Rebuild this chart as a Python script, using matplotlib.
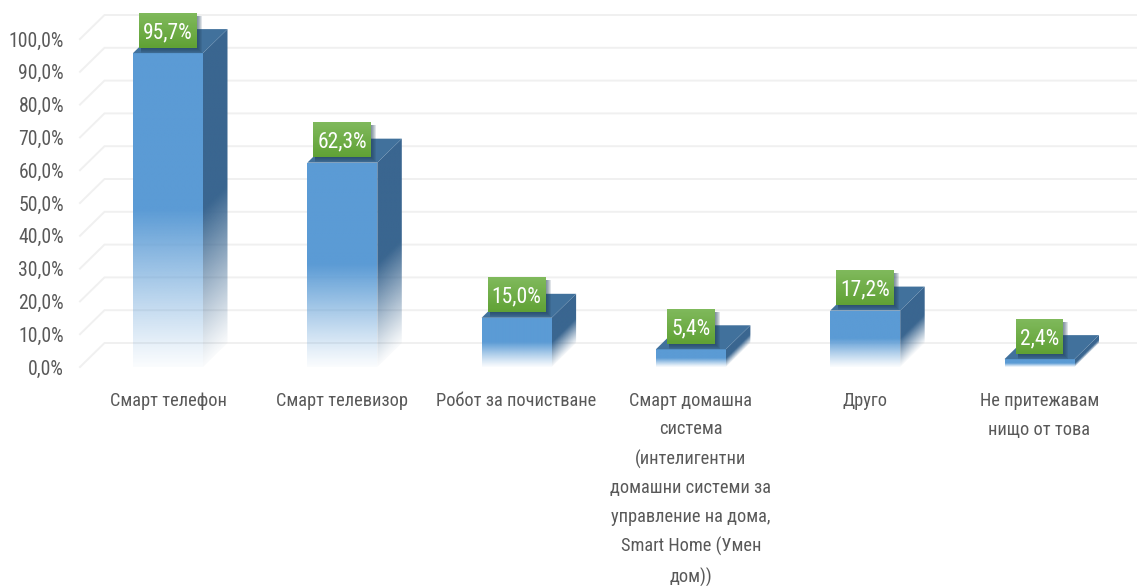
import numpy as np
import matplotlib
matplotlib.use("Agg")
import matplotlib.pyplot as plt
from matplotlib.patches import Polygon
from matplotlib.colors import to_rgb

categories = ["Смарт телефон", "Смарт телевизор", "Робот за почистване",
              "Смарт домашна\nсистема\n(интелигентни\nдомашни системи за\nуправление на дома,\nSmart Home (Умен\nдом))",
              "Друго", "Не притежавам\nнищо от това"]
values = [95.7, 62.3, 15.0, 5.4, 17.2, 2.4]
value_labels = ["95,7%", "62,3%", "15,0%", "5,4%", "17,2%", "2,4%"]
y_ticks = list(range(0, 101, 10))
y_tick_labels = [f"{v},0%" for v in y_ticks]

plt.rcParams["font.family"] = ["Roboto Condensed", "Liberation Sans Narrow", "Roboto", "DejaVu Sans"]

W, H = 1137, 586
FS = 13.2
fig = plt.figure(figsize=(W / 100, H / 100), dpi=100, facecolor="white")
PX_L, PX_R, PX_B, PX_T = 80, 1137, 367, 5
ax = fig.add_axes([PX_L / W, 1 - PX_B / H, (PX_R - PX_L) / W, (PX_B - PX_T) / H])
ux, uy = 174.3, 3.28
xlim = ((PX_L - 168) / ux, (PX_R - 168) / ux)
ylim = (0, (PX_B - PX_T) / uy)
for s in ax.spines.values():
    s.set_visible(False)
ax.patch.set_alpha(0)

dx, dy = 24.5 / ux, 24 / uy
bar_w = 70 / ux
left, right = xlim

for v in y_ticks:
    ax.plot([left, left + dx, right], [v, v + dy, v + dy], color="#F0F0F0", lw=1.4,
            zorder=1, clip_on=False, solid_joinstyle="miter")

ax.set_yticks(y_ticks, y_tick_labels, fontsize=14.2, color="#595959")
ax.set_xticks(range(len(categories)), categories, fontsize=FS, color="#595959", linespacing=1.75)
ax.tick_params(axis="y", length=0, pad=11.5)
ax.tick_params(axis="x", length=0, pad=18)
for lab in ax.get_yticklabels():
    lab.set_y(lab.get_position()[1])


def fade(t):
    return 0.03 + 0.97 * np.clip(t / 0.5, 0, 1) ** 1.1


def face(x0, x1, v, slant, rgb):
    """Face that is opaque in its upper half and fades towards its base."""
    ny, nx = 300, 40
    top = v + slant
    xs = np.linspace(x0, x1, nx)
    ys = np.linspace(top, 0, ny)
    XX, YY = np.meshgrid(xs, ys)
    base = slant * (XX - x0) / (x1 - x0) if slant else 0
    img = np.zeros((ny, nx, 4))
    img[..., :3] = to_rgb(rgb)
    img[..., 3] = fade((YY - base) / v)
    im = ax.imshow(img, extent=(x0, x1, 0, top), aspect="auto", zorder=3,
                   interpolation="bilinear", clip_on=True)
    poly = Polygon([(x0, 0), (x1, slant), (x1, v + slant), (x0, v)], closed=True,
                   transform=ax.transData, fc="none", ec="none")
    ax.add_patch(poly)
    im.set_clip_path(poly)


for i, v in enumerate(values):
    x0, x1 = i - bar_w / 2, i + bar_w / 2
    face(x0, x1, v, 0, "#5B9BD5")
    face(x1, x1 + dx, v, dy, "#3A6690")
    ax.fill([x0, x1, x1 + dx, x0 + dx], [v, v, v + dy, v + dy], color="#41719C", lw=0, zorder=3)

ax.set_xlim(*xlim)
ax.set_ylim(*ylim)

fig.canvas.draw()
rend = fig.canvas.get_renderer()
c0, c1 = np.array(to_rgb("#5FA134")), np.array(to_rgb("#80B95C"))
for i, (v, lab) in enumerate(zip(values, value_labels)):
    yc = v + 23 / uy
    t = ax.text(i, yc, lab, ha="center", va="center_baseline", color="white", fontsize=15.5, zorder=7)
    tw = t.get_window_extent(rend).width
    hw = (tw / 2 + 4) / ux
    hh = 17.5 / uy
    # soft shadow falling below and to the right of the box
    for g in (5, 4, 3, 2, 1):
        sx, sy = g / ux, g / uy
        xa, xb = i - hw + 2 / ux, i + hw + sx
        ya, yb = yc - hh - sy, yc + hh - 3 / uy
        ax.fill([xa, xb, xb, xa], [ya, ya, yb, yb], color="#1F3A55", alpha=0.14, lw=0, zorder=4, clip_on=False)
    n = 30
    X = np.array([[i - hw, i + hw]] * (n + 1))
    ys = np.linspace(yc - hh, yc + hh, n + 1)
    Y = np.column_stack([ys, ys])
    C = np.zeros((n, 1, 3))
    for k in range(n):
        C[k, 0] = c0 + (c1 - c0) * (k + .5) / n
    ax.pcolormesh(X, Y, C, shading="flat", antialiased=False, zorder=5, clip_on=False)

ax.set_xlim(*xlim)
ax.set_ylim(*ylim)
fig.savefig("out.png", dpi=100)
